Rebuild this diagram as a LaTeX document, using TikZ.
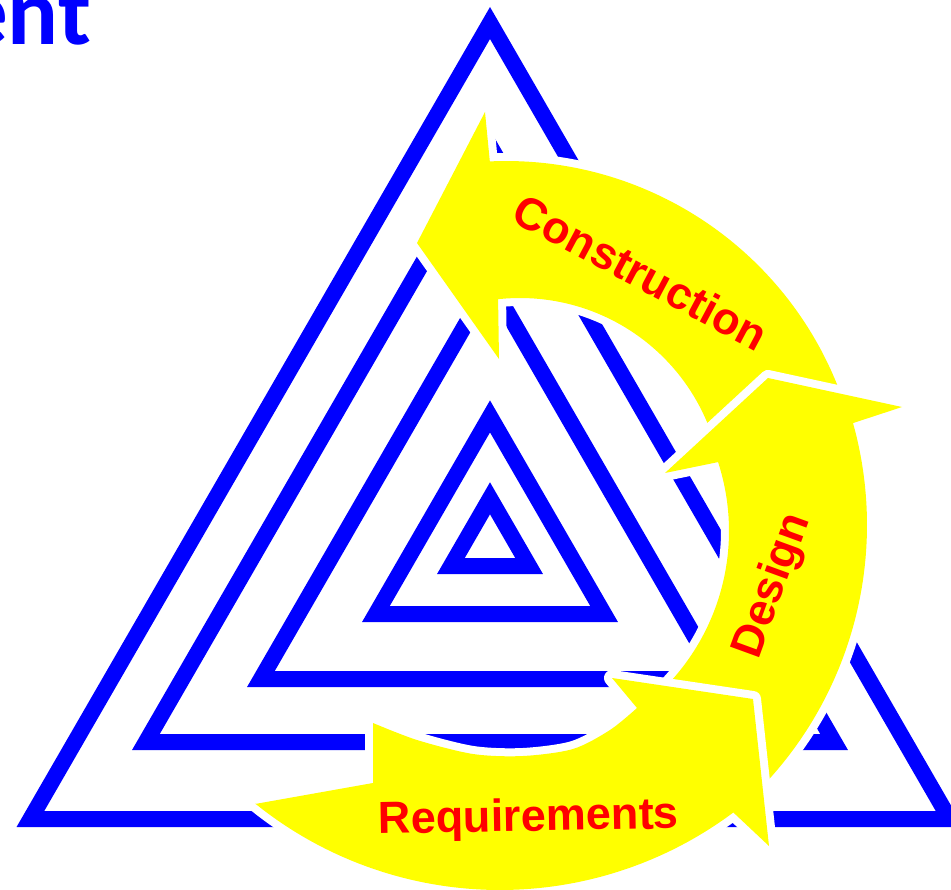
\documentclass[tikz,border=0pt]{standalone}
\usepackage{fontspec}
\setmainfont{Liberation Sans}
\newfontfamily\titlefont{Carlito}
\definecolor{pyellow}{RGB}{255,255,0}
\definecolor{pblue}{RGB}{0,0,255}
\definecolor{pred}{RGB}{255,0,0}
\begin{document}
\begin{tikzpicture}[x=1pt,y=-1pt,
  tri/.style={draw=pblue, line width=16pt, line join=miter},
  band/.style={fill=pyellow, preaction={draw=white, line width=16pt, line join=round}},
  lbl/.style={text=pred, font=\fontsize{45}{54}\selectfont\bfseries, inner sep=0pt}]
\useasboundingbox (0,0) rectangle (951,890);
\begin{scope}
\clip (0,0) rectangle (951,890);
% title fragment
\node[anchor=base west, inner sep=0pt, text=pblue, font=\titlefont\fontsize{95}{100}\selectfont\bfseries] (title) at (-40,45) {ent};
% nested triangles
\draw[tri] (490,23) -- (30.4,819) -- (949.6,819) -- cycle;
\draw[tri] (490,146) -- (145.9,742) -- (834.1,742) -- cycle;
\draw[tri] (490,282.2) -- (260.9,679) -- (719.1,679) -- cycle;
\draw[tri] (490,416.4) -- (375.9,614) -- (604.1,614) -- cycle;
\draw[tri] (490,498.3) -- (450.9,566) -- (529.1,566) -- cycle;
% Construction arrow
\path[band] (417,243) -- (485,112)
  -- plot[domain=-92.6:-16.2, samples=40, smooth] ({506+357*cos(\x)}, {518+357*sin(\x)})
  -- plot[domain=-15:-96.2, samples=40, smooth] ({520+203*cos(\x)}, {501+203*sin(\x)})
  -- (499,359) -- cycle;
% Design arrow
\path[band] (768,378) -- (902,407)
  -- plot[domain=-15.6:46, samples=40, smooth] ({488+379*cos(\x)}, {525+379*sin(\x)})
  -- plot[domain=47:-18, samples=40, smooth] ({506+223*cos(\x)}, {531+223*sin(\x)})
  -- (665,473) -- cycle;
% Requirements arrow
\path[band] (255,804)
  -- plot[domain=128.9:53.25, samples=50, smooth] ({500+390*cos(\x)}, {500+390*sin(\x)})
  -- (769,846) -- (753,699) -- (612,678) -- (637,708)
  -- plot[smooth] coordinates {(637,708) (610,730) (573,749) (523,756) (473,754) (417,740) (373,723)}
  -- (373,783) -- cycle;
% labels
\node[lbl, rotate=-28] (construction) at (641,272) {Construction};
\node[lbl, rotate=70] (design) at (773,586) {Design};
\node[lbl, rotate=1, anchor=base] (requirements) at (529,831) {Requirements};
\end{scope}
\end{tikzpicture}
\end{document}
